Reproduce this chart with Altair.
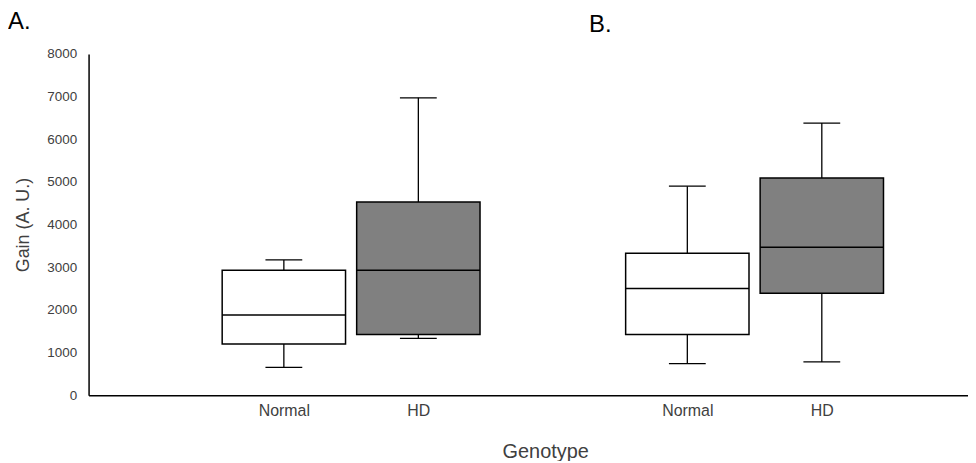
import altair as alt
import pandas as pd

# ---- data ----
panels = ["A", "A", "B", "B"]
genotypes = ["Normal", "HD", "Normal", "HD"]
slots = [1, 2, 4, 5]                      # category slot on the x axis
whisker_low = [650, 1330, 740, 780]
q1 = [1200, 1420, 1420, 2390]
median = [1880, 2930, 2500, 3470]
q3 = [2930, 4530, 3330, 5090]
whisker_high = [3170, 6970, 4900, 6380]

y_ticks = [0, 1000, 2000, 3000, 4000, 5000, 6000, 7000, 8000]
panel_letters = ["A.", "B."]

df = pd.DataFrame({
    "panel": panels, "genotype": genotypes, "slot": slots,
    "lo": whisker_low, "q1": q1, "med": median, "q3": q3, "hi": whisker_high,
})

label_expr = " : ".join(
    f"datum.value == {s} ? '{g}'" for s, g in zip(slots, genotypes)
) + " : ''"

FONT = "Liberation Sans"
TXT = "#404040"

x_enc = alt.X(
    "slot:Q",
    scale=alt.Scale(domain=[-0.415, 6.05], nice=False, zero=False),
    axis=alt.Axis(
        values=slots, labelExpr=label_expr, grid=False, ticks=False,
        domainColor="#000000", domainWidth=1.5, labelFont=FONT, labelFontSize=16,
        labelColor=TXT, labelPadding=7, title="Genotype", titleFont=FONT,
        titleFontSize=20, titleFontWeight="normal", titleColor=TXT, titlePadding=24,
        titleX=459, titleAlign="center",
    ),
)
y_scale = alt.Scale(domain=[0, 8000], nice=False)
y_axis = alt.Axis(
    values=y_ticks, format="d", grid=False, ticks=False, domainColor="#000000",
    domainWidth=1.5, labelFont=FONT, labelFontSize=13.5, labelColor=TXT, labelPadding=12,
    title="Gain (A. U.)", titleFont=FONT, titleFontSize=18, titleFontWeight="normal",
    titleColor=TXT, titlePadding=14,
)

base = alt.Chart(df)

whisk_lo = base.mark_rule(color="#000000", strokeWidth=1.3).encode(
    x=x_enc, y=alt.Y("lo:Q", scale=y_scale, axis=y_axis), y2="q1:Q")
whisk_hi = base.mark_rule(color="#000000", strokeWidth=1.3).encode(
    x="slot:Q", y="q3:Q", y2="hi:Q")
cap_lo = base.mark_tick(orient="horizontal", size=37, thickness=1.3, color="#000000",
                        opacity=1).encode(x="slot:Q", y="lo:Q")
cap_hi = base.mark_tick(orient="horizontal", size=37, thickness=1.3, color="#000000",
                        opacity=1).encode(x="slot:Q", y="hi:Q")
box = base.mark_bar(size=124, stroke="#000000", strokeWidth=1.5, opacity=1).encode(
    x="slot:Q", y="q1:Q", y2="q3:Q",
    fill=alt.Fill("genotype:N",
                  scale=alt.Scale(domain=["Normal", "HD"], range=["#ffffff", "#808080"]),
                  legend=None),
)
med = base.mark_tick(orient="horizontal", size=124, thickness=1.5, color="#000000",
                     opacity=1).encode(x="slot:Q", y="med:Q")

letter_a = alt.Chart(pd.DataFrame({"t": [panel_letters[0]]})).mark_text(
    font=FONT, fontSize=24, color="#000000", align="left", baseline="alphabetic"
).encode(text="t:N", x=alt.value(-81), y=alt.value(-25))
letter_b = alt.Chart(pd.DataFrame({"t": [panel_letters[1]]})).mark_text(
    font=FONT, fontSize=24, color="#000000", align="left", baseline="alphabetic"
).encode(text="t:N", x=alt.value(503), y=alt.value(-22))

chart = alt.layer(whisk_lo, whisk_hi, cap_lo, cap_hi, box, med, letter_a, letter_b).properties(
    width=884, height=343,
    background="#ffffff",
    autosize=alt.AutoSizeParams(type="none"),
    padding={"left": 81, "top": 45, "right": 0, "bottom": 65},
).configure_view(stroke=None)

chart.save("out.html", embed_options={"renderer": "svg", "actions": False})
